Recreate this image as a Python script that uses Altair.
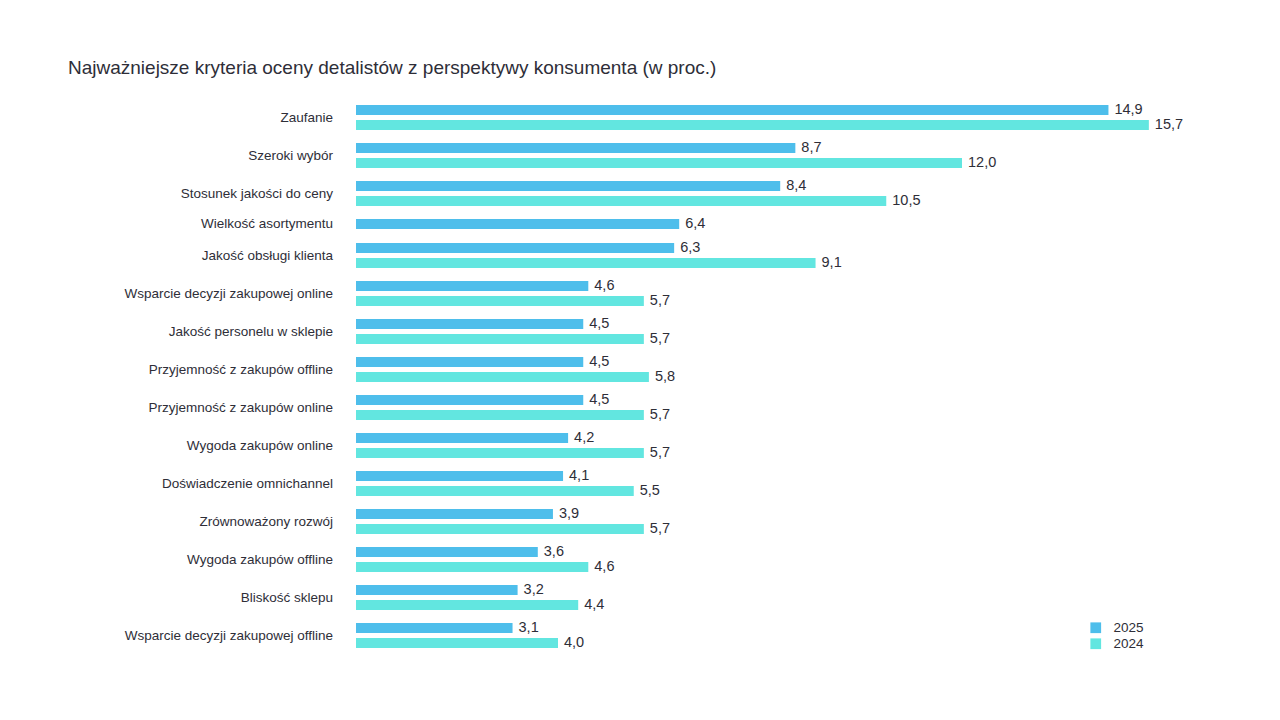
import altair as alt
import pandas as pd

categories = [
    "Zaufanie",
    "Szeroki wybór",
    "Stosunek jakości do ceny",
    "Wielkość asortymentu",
    "Jakość obsługi klienta",
    "Wsparcie decyzji zakupowej online",
    "Jakość personelu w sklepie",
    "Przyjemność z zakupów offline",
    "Przyjemność z zakupów online",
    "Wygoda zakupów online",
    "Doświadczenie omnichannel",
    "Zrównoważony rozwój",
    "Wygoda zakupów offline",
    "Bliskość sklepu",
    "Wsparcie decyzji zakupowej offline",
]
values_2025 = [14.9, 8.7, 8.4, 6.4, 6.3, 4.6, 4.5, 4.5, 4.5, 4.2, 4.1, 3.9, 3.6, 3.2, 3.1]
values_2024 = [15.7, 12.0, 10.5, None, 9.1, 5.7, 5.7, 5.8, 5.7, 5.7, 5.5, 5.7, 4.6, 4.4, 4.0]
years = ["2025", "2024"]
colors = ["#4ebeeb", "#62e6e0"]

rows = []
for c, v25, v24 in zip(categories, values_2025, values_2024):
    for yr, v in (("2025", v25), ("2024", v24)):
        if v is None:
            continue
        rows.append({"kategoria": c, "rok": yr, "wartosc": v,
                     "etykieta": f"{v:.1f}".replace(".", ",")})
df = pd.DataFrame(rows)

FONT = "Liberation Sans"
TXT = "#2e2e38"

y_enc = alt.Y("rok:N", sort=years, axis=None,
              scale=alt.Scale(paddingInner=1/3, paddingOuter=0))
x_enc = alt.X("wartosc:Q", axis=None, scale=alt.Scale(domain=[0, 16], nice=False))

bars = alt.Chart().mark_bar(cornerRadius=0).encode(
    y=y_enc, x=x_enc,
    color=alt.Color("rok:N", sort=years,
                    scale=alt.Scale(domain=years, range=colors),
                    legend=alt.Legend(title=None, orient="none", legendX=733, legendY=516,
                                      symbolType="square", symbolSize=115,
                                      symbolStrokeWidth=0, labelFontSize=13.5,
                                      labelColor=TXT, labelFont=FONT, rowPadding=1,
                                      labelOffset=11)),
)

labels = alt.Chart().mark_text(align="left", baseline="middle", dx=6,
                               fontSize=14.5, color=TXT, font=FONT).encode(
    y=y_enc, x=x_enc, text="etykieta:N",
)

inner = alt.layer(bars, labels).properties(width=808, height=alt.Step(15))

chart = inner.facet(
    data=df,
    row=alt.Row("kategoria:N", sort=categories,
                header=alt.Header(title=None, labelOrient="left", labelAngle=0,
                                  labelAlign="left", labelPadding=23,
                                  labelFontSize=13.5, labelColor=TXT, labelFont=FONT,
                                  labelLimit=400)),
    spacing=13,
).resolve_scale(y="independent").properties(
    background="white",
    bounds="flush",
    padding={"left": 60, "top": 51, "right": 10, "bottom": 10},
    title=alt.TitleParams(
        "Najważniejsze kryteria oceny detalistów z perspektywy konsumenta (w proc.)",
        anchor="start", frame="group", dx=-288, offset=9, baseline="alphabetic",
        fontSize=19, fontWeight="normal", font=FONT, color=TXT),
).configure_view(stroke=None, strokeWidth=0, discreteHeight={"step": 15})

chart.save("out.html", embed_options={"renderer": "svg", "actions": False})
